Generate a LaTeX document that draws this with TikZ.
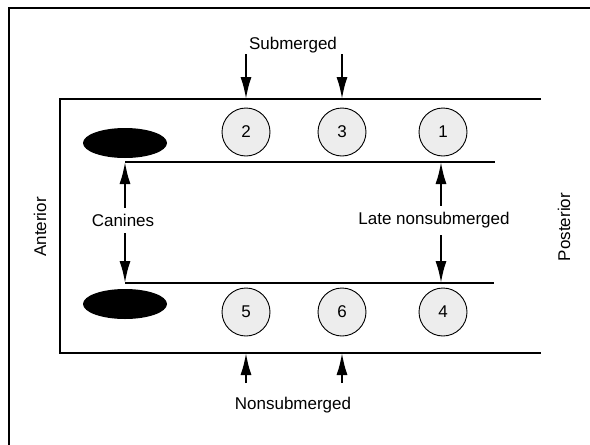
\documentclass[tikz,border=0pt]{standalone}
\usepackage{fontspec}
\setmainfont{Liberation Sans}
\usetikzlibrary{arrows.meta}

\begin{document}
\begin{tikzpicture}[x=1pt, y=-1pt,
	tooth/.style={draw, circle, fill=black!7, line width=0.9pt, minimum size=48pt, inner sep=0pt, font=\fontsize{17}{20}\selectfont},
	label/.style={inner sep=0pt, font=\fontsize{17}{20}\selectfont},
	jaw/.style={line width=2.4pt},
	pointer/.style={line width=2pt, -{Latex[length=22pt, width=11pt]}}]
	\useasboundingbox (0,0) rectangle (590,445);
	\draw [line width=1.3pt] (9,445)--(9,8)--(590,8);
	\draw [jaw] (541,99)--(60,99)--(60,353)--(541,353);
	\draw [jaw] (125,162)--(495,162);
	\draw [jaw] (125,283)--(494,283);
	\fill (125,143) ellipse (42pt and 15pt);
	\fill (125,304) ellipse (42pt and 15pt);
	\node [tooth] (t2) at (246,132) {2};
	\node [tooth] (t3) at (342,132) {3};
	\node [tooth] (t1) at (443,132) {1};
	\node [tooth] (t5) at (246,312) {5};
	\node [tooth] (t6) at (342,312) {6};
	\node [tooth] (t4) at (443,312) {4};
	\node [label] (sub) at (293,45) {Submerged};
	\node [label] (nonsub) at (293,405) {Nonsubmerged};
	\node [label] (can) at (123,220) {Canines};
	\node [label] (late) at (434,220) {Late nonsubmerged};
	\node [label, rotate=90] (ant) at (40,227) {Anterior};
	\node [label, rotate=90] (post) at (564,227) {Posterior};
	\coordinate (s2) at (246,54);
	\coordinate (s3) at (342,54);
	\coordinate (n5) at (246,383);
	\coordinate (n6) at (342,383);
	\draw [pointer] (s2)--(246,99);
	\draw [pointer] (s3)--(342,99);
	\draw [pointer] (n5)--(246,353);
	\draw [pointer] (n6)--(342,353);
	\draw [pointer] (can.north -| 125,0) ++(0,-6)--(125,162);
	\draw [pointer] (can.south -| 125,0) ++(0,7)--(125,283);
	\draw [pointer] (late.north -| 441,0) ++(0,-6)--(441,162);
	\draw [pointer] (late.south -| 441,0) ++(0,7)--(441,283);
\end{tikzpicture}
\end{document}
